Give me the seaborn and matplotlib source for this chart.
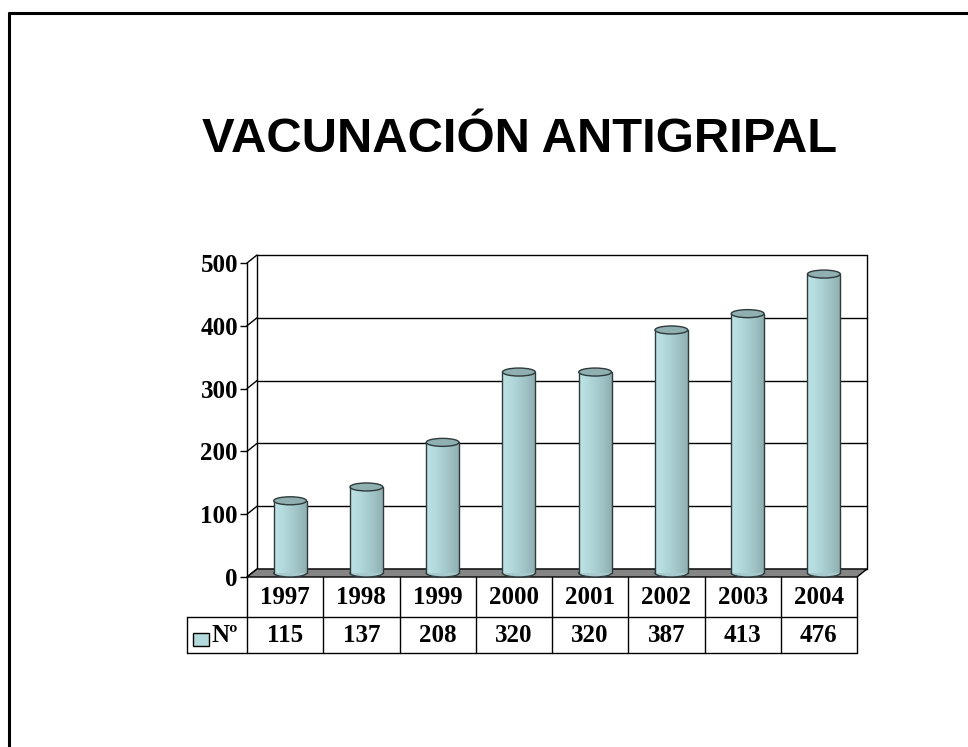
import numpy as np
import matplotlib
matplotlib.use("Agg")
import matplotlib.pyplot as plt
import seaborn as sns
import pandas as pd
from matplotlib.patches import Ellipse, Polygon, Rectangle
from matplotlib.lines import Line2D
from matplotlib.transforms import ScaledTranslation, blended_transform_factory
from matplotlib.colors import LinearSegmentedColormap

# ---- data ----
years = ["1997", "1998", "1999", "2000", "2001", "2002", "2003", "2004"]
counts = [115, 137, 208, 320, 320, 387, 413, 476]
yticks = [0, 100, 200, 300, 400, 500]
series_label = "Nº"
title = "VACUNACIÓN ANTIGRIPAL"

sns.set_style("white")
plt.rcParams["font.family"] = ["Liberation Serif", "DejaVu Serif"]
plt.rcParams["text.color"] = "black"
plt.rcParams["ytick.color"] = "black"
plt.rcParams["ytick.labelcolor"] = "black"

W, H = 968, 747
fig = plt.figure(figsize=(W / 100, H / 100), dpi=100)


def fx(px):
    return px / W


def fy(py):
    return 1 - py / H


# front plane of the plot (pixels)
L, R, T, B = 247, 857, 263, 577
ax = fig.add_axes([fx(L), fy(B), (R - L) / W, (B - T) / H])

df = pd.DataFrame({"Año": years, "Nº": counts})
sns.barplot(data=df, x="Año", y="Nº", ax=ax, width=0.43, color="#B2D9DC",
            saturation=1, linewidth=0, zorder=3)

n = len(years)
ymax = yticks[-1]
ux = n / (R - L)          # data units per pixel, x
uy = ymax / (B - T)       # data units per pixel, y
DX, DY = 10, 8            # depth of the 3-D box in pixels
dx, dy = DX * ux, DY * uy
x0, x1 = -0.5, n - 0.5

# floor
floor = Polygon([(x0, 0), (x1, 0), (x1 + dx, dy), (x0 + dx, dy)], closed=True,
                facecolor="#858585", edgecolor="black", lw=1, zorder=1.5, clip_on=False)
ax.add_patch(floor)

# back wall, side wall and gridlines
for v in yticks:
    ax.plot([x0, x0 + dx], [v, v + dy], color="black", lw=1, clip_on=False, zorder=1)
    ax.plot([x0 + dx, x1 + dx], [v + dy, v + dy], color="black", lw=1, clip_on=False, zorder=1)
ax.plot([x0 + dx, x0 + dx], [dy, ymax + dy], color="black", lw=1, clip_on=False, zorder=1)
ax.plot([x1 + dx, x1 + dx], [dy, ymax + dy], color="black", lw=1, clip_on=False, zorder=1)

# cylinders: shaded body, rounded bottom, elliptical top
shade = LinearSegmentedColormap.from_list(
    "cyl", ["#BDE3E6", "#B4DBDE", "#AACFD2", "#9EC1C3", "#90AFB1"])
grad = np.linspace(0, 1, 64).reshape(1, -1)
off = ScaledTranslation(DX / 200, DY / 200, fig.dpi_scale_trans)
tr = ax.transData + off
eh = 8 * uy
for p in ax.patches:
    if not isinstance(p, Rectangle):
        continue
    bx, bw, bh = p.get_x(), p.get_width(), p.get_height()
    cx = bx + bw / 2
    p.set_transform(tr)
    p.set_clip_on(False)
    im = ax.imshow(grad, extent=[bx, bx + bw, 0, bh], cmap=shade, aspect="auto",
                   zorder=3.1, interpolation="bilinear")
    im.set_transform(tr)
    im.set_clip_path(p)
    bottom = Ellipse((cx, 0), bw, eh, facecolor="#A6CACD", edgecolor="#2E3A3B",
                     lw=1, transform=tr, zorder=2.9, clip_on=False)
    ax.add_patch(bottom)
    ax.plot([bx, bx], [0, bh], color="#2E3A3B", lw=1, transform=tr, zorder=3.2, clip_on=False)
    ax.plot([bx + bw, bx + bw], [0, bh], color="#2E3A3B", lw=1, transform=tr, zorder=3.2, clip_on=False)
    top = Ellipse((cx, bh), bw, eh, facecolor="#8FAFB1", edgecolor="#2E3A3B",
                  lw=1, transform=tr, zorder=3.3, clip_on=False)
    ax.add_patch(top)

ax.set_xlim(x0, x1)
ax.set_ylim(0, ymax)
ax.set_xlabel("")
ax.set_ylabel("")
ax.set_xticks([])
ax.set_yticks(yticks)
ax.set_yticklabels([str(v) for v in yticks], fontsize=18, fontweight="bold", color="black")
ax.tick_params(axis="y", left=True, length=5, width=1, pad=1.5, color="black")
for s in ["top", "right", "bottom"]:
    ax.spines[s].set_visible(False)
ax.spines["left"].set_color("black")
ax.spines["left"].set_linewidth(1)
ax.patch.set_alpha(0)

# data table under the plot
bt = blended_transform_factory(ax.transData, fig.transFigure)
row1, row2, row3 = 577, 617, 653
leg_left = x0 + (187 - L) * ux
for i in range(n + 1):
    xb = i - 0.5
    ax.add_line(Line2D([xb, xb], [fy(row1), fy(row3)], transform=bt, color="black",
                       lw=1, clip_on=False))
ax.add_line(Line2D([leg_left, leg_left], [fy(row2), fy(row3)], transform=bt, color="black",
                   lw=1, clip_on=False))
for yy in (row2, row3):
    ax.add_line(Line2D([leg_left, x1], [fy(yy), fy(yy)], transform=bt, color="black",
                       lw=1, clip_on=False))
for i, (yr, c) in enumerate(zip(years, counts)):
    ax.text(i, fy(598), yr, transform=bt, ha="center", va="center",
            fontsize=18, fontweight="bold", color="black")
    ax.text(i, fy(636), str(c), transform=bt, ha="center", va="center",
            fontsize=18, fontweight="bold", color="black")

# legend key in the table
fig.add_artist(Rectangle((fx(193), fy(646)), 16 / W, 13 / H, transform=fig.transFigure,
                         facecolor="#B2D9DC", edgecolor="black", lw=1))
fig.text(fx(212), fy(636), series_label, ha="left", va="center",
         fontsize=18, fontweight="bold", color="black")

# title
fig.text(fx(519.5), fy(152), title, ha="center", va="baseline", color="black",
         fontsize=35.3, fontweight="bold", family=["Liberation Sans", "DejaVu Sans"])

# slide frame
fig.add_artist(Line2D([fx(9), fx(9)], [0, fy(13)], transform=fig.transFigure,
                      color="black", lw=2.2))
fig.add_artist(Line2D([fx(9), 1], [fy(13), fy(13)], transform=fig.transFigure,
                      color="black", lw=2.2))

fig.savefig("out.png", dpi=100, facecolor="white")
